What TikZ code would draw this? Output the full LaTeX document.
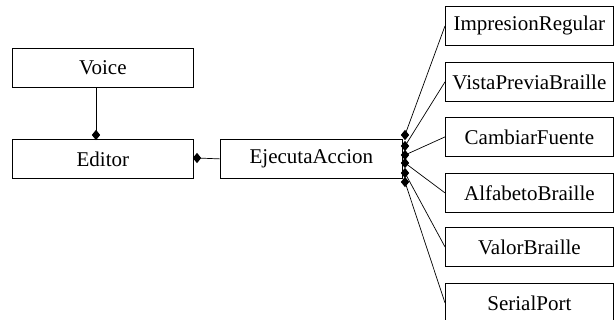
\documentclass[tikz,border=0pt]{standalone}
\usepackage{fontspec}
\setmainfont{Liberation Serif}
\usetikzlibrary{shapes.geometric}
\begin{document}
\begin{tikzpicture}[x=1pt,y=-1pt,
  box/.style={draw, line width=0.8pt, inner sep=0pt, minimum height=39pt, anchor=north west, font=\fontsize{21}{24}\selectfont},
  lbox/.style={box, minimum width=181pt},
  rbox/.style={box, minimum width=168pt},
  link/.style={line width=0.7pt},
  dia/.style={diamond, fill=black, draw=none, inner sep=0pt, minimum width=8.5pt, minimum height=10.5pt}]
\useasboundingbox (0,0) rectangle (615,320);
\node[lbox] (voice) at (12,48) {Voice};
\node[lbox] (editor) at (12,139) {Editor};
\node[box, minimum width=182pt] (ejec) at (220,139) {EjecutaAccion};
\node[rbox] (imp) at (445,6) {ImpresionRegular};
\node[rbox] (vis) at (445,62) {VistaPreviaBraille};
\node[rbox] (cam) at (445,117) {CambiarFuente};
\node[rbox] (alf) at (445,173) {AlfabetoBraille};
\node[rbox] (val) at (445,227) {ValorBraille};
\node[rbox] (ser) at (445,283) {SerialPort};
\node[dia] (dv) at (96,135) {};
\node[dia] (de) at (197,158) {};
\node[dia] (d1) at (405,135) {};
\node[dia] (d2) at (405,146) {};
\node[dia] (d3) at (405,155) {};
\node[dia] (d4) at (405,163) {};
\node[dia] (d5) at (405,173) {};
\node[dia] (d6) at (405,182) {};
\draw[link] (dv.center) -- (dv.center |- voice.south);
\draw[link] (de.center) -- (ejec.west);
\draw[link] (d1.center) -- (imp.west);
\draw[link] (d2.center) -- (vis.west);
\draw[link] (d3.center) -- (cam.west);
\draw[link] (d4.center) -- (alf.west);
\draw[link] (d5.center) -- (val.west);
\draw[link] (d6.center) -- (ser.west);
\end{tikzpicture}
\end{document}
